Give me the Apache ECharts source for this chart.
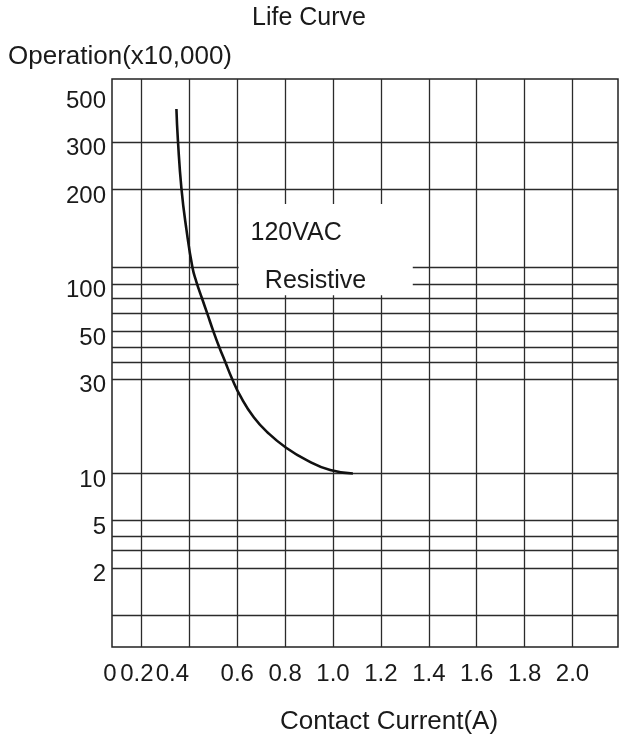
<!DOCTYPE html>
<html>
<head>
<meta charset="utf-8">
<title>Life Curve</title>
<script src="https://cdn.jsdelivr.net/npm/echarts@6/dist/echarts.min.js"></script>
<style>
    html, body { margin: 0; padding: 0; background: #fff; }
    #main { width: 621px; height: 737px; }
</style>
</head>
<body>
<div id="main"></div>
<script>
// curve: contact current (A) and operations (x10,000)
var currents = [0.346, 0.352, 0.367, 0.388, 0.413, 0.429, 0.452, 0.475, 0.5, 0.525, 0.55, 0.577, 0.615, 0.669, 0.729, 0.8, 0.888, 0.988, 1.083];
var operations = [430, 310, 202, 149, 113, 102, 82, 65, 50.3, 42.2, 36, 30.3, 24.3, 19.2, 16, 13.6, 11.7, 10.4, 10];

// tick labels
var xTicks = [0, 0.2, 0.4, 0.6, 0.8, 1.0, 1.2, 1.4, 1.6, 1.8, 2.0];
var yTicks = [2, 5, 10, 30, 50, 100, 200, 300, 500];

// horizontal grid lines of the printed chart (operations)
var gridOps = [1, 2, 2.8, 3.7, 5, 10, 30, 36, 42, 50, 65, 82, 100, 113, 200, 300];

// the printed y scale is neither linear nor log: each label sits on its own step
var scaleOps = [1, 2, 5, 10, 30, 50, 100, 200, 300, 500];
var scaleSteps = [-1, 0, 1, 2, 4, 5, 6, 8, 9, 10];

var font = 'Liberation Sans';
var ink = '#1a1a1a';
var xMin = 0.077, xMax = 2.19;

function toStep(v) {
    var i = 0;
    while (i < scaleOps.length - 2 && v > scaleOps[i + 1]) i++;
    var a = scaleOps[i], b = scaleOps[i + 1];
    var t = Math.log(v / a) / Math.log(b / a);
    return scaleSteps[i] + t * (scaleSteps[i + 1] - scaleSteps[i]);
}

function stepLabel(s) {
    var best = 0;
    for (var i = 0; i < yTicks.length; i++) {
        if (Math.abs(toStep(yTicks[i]) - s) < Math.abs(toStep(yTicks[best]) - s)) best = i;
    }
    return String(yTicks[best]);
}

function draw() {
    var myChart = echarts.init(document.getElementById('main'));

    var lines = [];
    xTicks.forEach(function (c) {
        if (c > 0) lines.push({xAxis: c});
    });
    gridOps.forEach(function (v) {
        lines.push({yAxis: toStep(v)});
    });

    var option = {
        animation: false,
        title: {
            text: 'Life Curve',
            left: 252,
            top: 6,
            padding: 0,
            textStyle: {fontFamily: font, fontSize: 25, fontWeight: 'normal', color: ink}
        },
        grid: {
            left: 112,
            right: 3,
            top: 79,
            bottom: 90,
            show: true,
            borderColor: '#222',
            borderWidth: 1.5,
            outerBoundsMode: 'none'
        },
        xAxis: {
            type: 'value',
            min: xMin,
            max: xMax,
            name: 'Contact Current(A)',
            nameLocation: 'middle',
            nameGap: 75,
            nameTextStyle: {
                fontFamily: font, fontSize: 26, color: ink,
                verticalAlign: 'middle', padding: [0, 0, 0, 48]
            },
            axisLine: {show: false},
            axisTick: {show: false},
            splitLine: {show: false},
            axisLabel: {
                customValues: xTicks.map(function (c) { return c === 0 ? xMin : c; }),
                margin: 15,
                fontFamily: font,
                fontSize: 24,
                color: ink,
                formatter: function (v) {
                    if (v < 0.1) return '{z|0}';
                    if (Math.abs(v - 0.2) < 1e-6) return '{a|0.2}';
                    if (Math.abs(v - 0.4) < 1e-6) return '{b|0.4}';
                    return v.toFixed(1);
                },
                rich: {
                    z: {fontFamily: font, fontSize: 24, color: ink, padding: [0, 4, 0, 0]},
                    a: {fontFamily: font, fontSize: 24, color: ink, padding: [0, 9, 0, 0]},
                    b: {fontFamily: font, fontSize: 24, color: ink, padding: [0, 34, 0, 0]}
                }
            }
        },
        yAxis: {
            type: 'value',
            min: -1.67,
            max: 10.34,
            name: 'Operation(x10,000)',
            nameLocation: 'end',
            nameGap: 22,
            nameTextStyle: {
                fontFamily: font, fontSize: 26, color: ink,
                align: 'left', verticalAlign: 'middle', padding: [0, 0, 0, -104]
            },
            axisLine: {show: false},
            axisTick: {show: false},
            splitLine: {show: false},
            axisLabel: {
                customValues: yTicks.map(toStep),
                margin: 6,
                verticalAlign: 'top',
                lineHeight: 13,
                fontFamily: font,
                fontSize: 24,
                color: ink,
                formatter: stepLabel
            }
        },
        series: [{
            type: 'line',
            z: 3,
            smooth: true,
            showSymbol: false,
            silent: true,
            lineStyle: {color: '#111', width: 2.6},
            data: currents.map(function (c, i) {
                return [c, toStep(operations[i])];
            }),
            markLine: {
                z: 1,
                silent: true,
                symbol: 'none',
                label: {show: false},
                lineStyle: {color: '#2b2b2b', width: 1.3, type: 'solid'},
                emphasis: {disabled: true},
                data: lines
            },
            // white patch behind the legend text, as on the print
            markArea: {
                z: 2,
                silent: true,
                itemStyle: {color: '#fff', opacity: 1, borderWidth: 0},
                emphasis: {disabled: true},
                data: [[
                    {coord: [0.606, toStep(85)]},
                    {coord: [1.333, toStep(180)]}
                ]]
            },
            markPoint: {
                z: 4,
                silent: true,
                symbol: 'circle',
                symbolSize: 0,
                label: {
                    show: true,
                    position: 'inside',
                    fontFamily: font,
                    fontSize: 25,
                    color: ink,
                    formatter: function (p) { return p.name; }
                },
                data: [
                    {name: '120VAC', coord: [0.846, toStep(146)]},
                    {name: 'Resistive', coord: [0.927, toStep(102.5)]}
                ]
            }
        }]
    };
    myChart.setOption(option);
}
draw();
</script>
</body>
</html>
